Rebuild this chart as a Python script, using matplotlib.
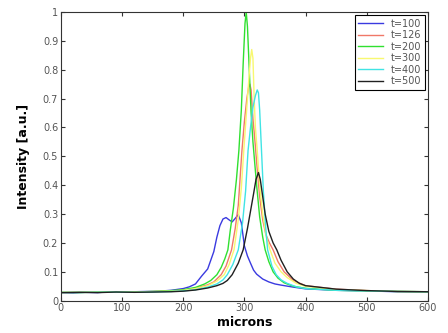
import numpy as np
import matplotlib
matplotlib.use("Agg")
import matplotlib.pyplot as plt
from matplotlib.ticker import FormatStrFormatter

# ---- data ----
labels = ['t=100', 't=126', 't=200', 't=300', 't=400', 't=500']
colors = ['#3a3ae0', '#f07868', '#30e030', '#f8f870', '#40e4e4', '#202020']

x_100 = [0, 20, 40, 60, 80, 100, 120, 140, 160, 180, 200, 210, 220, 230, 240, 250, 255, 260,
         265, 270, 275, 280, 285, 290, 295, 300, 305, 310, 315, 320, 330, 340, 350, 360, 380,
         400, 450, 500, 550, 600]
y_100 = [0.028, 0.027, 0.029, 0.028, 0.031, 0.030, 0.031, 0.032, 0.033, 0.036, 0.042, 0.048,
         0.058, 0.085, 0.11, 0.17, 0.22, 0.26, 0.283, 0.288, 0.280, 0.273, 0.285, 0.298, 0.27,
         0.19, 0.155, 0.13, 0.106, 0.092, 0.075, 0.065, 0.058, 0.054, 0.047, 0.041, 0.036,
         0.034, 0.031, 0.030]

x_126 = [0, 30, 60, 90, 120, 150, 180, 200, 220, 240, 250, 262, 270, 279, 285, 290, 296, 300,
         304, 307, 309, 311, 314, 317, 320, 325, 330, 335, 341, 347, 355, 365, 380, 400, 450,
         500, 550, 600]
y_126 = [0.028, 0.029, 0.030, 0.029, 0.031, 0.031, 0.034, 0.037, 0.043, 0.055, 0.065, 0.09,
         0.12, 0.176, 0.25, 0.33, 0.52, 0.62, 0.70, 0.74, 0.75, 0.73, 0.63, 0.56, 0.48, 0.36,
         0.28, 0.23, 0.20, 0.176, 0.135, 0.10, 0.07, 0.052, 0.040, 0.035, 0.032, 0.031]

x_200 = [0, 30, 60, 90, 120, 150, 180, 200, 220, 235, 245, 255, 262, 268, 273, 277, 282, 287,
         291, 295, 298, 301, 303, 305, 308, 311, 314, 316, 320, 325, 330, 334, 340, 347, 355,
         365, 380, 400, 450, 500, 550, 600]
y_200 = [0.029, 0.028, 0.030, 0.031, 0.030, 0.032, 0.035, 0.038, 0.046, 0.058, 0.07, 0.09,
         0.115, 0.145, 0.176, 0.245, 0.32, 0.42, 0.52, 0.66, 0.82, 0.96, 1.0, 0.95, 0.80, 0.65,
         0.55, 0.50, 0.40, 0.29, 0.22, 0.176, 0.135, 0.10, 0.078, 0.062, 0.050, 0.043, 0.036,
         0.034, 0.032, 0.031]

x_300 = [0, 30, 60, 90, 120, 150, 180, 200, 220, 240, 255, 267, 275, 283, 290, 295, 299, 303,
         307, 310, 312, 314, 316, 318, 321, 325, 330, 336, 342, 350, 360, 370, 385, 400, 450,
         500, 550, 600]
y_300 = [0.028, 0.030, 0.029, 0.031, 0.030, 0.032, 0.033, 0.036, 0.042, 0.052, 0.068, 0.09,
         0.125, 0.176, 0.28, 0.39, 0.52, 0.64, 0.76, 0.84, 0.87, 0.84, 0.70, 0.60, 0.52, 0.40,
         0.30, 0.22, 0.176, 0.13, 0.10, 0.08, 0.06, 0.05, 0.038, 0.035, 0.032, 0.031]

x_400 = [0, 30, 60, 90, 120, 150, 180, 200, 220, 240, 255, 265, 272, 281, 290, 297, 302, 306,
         310, 314, 318, 321, 323, 325, 328, 331, 335, 338, 345, 352, 360, 370, 385, 400, 450,
         500, 550, 600]
y_400 = [0.028, 0.029, 0.029, 0.030, 0.029, 0.030, 0.032, 0.034, 0.038, 0.047, 0.058, 0.072,
         0.09, 0.125, 0.176, 0.27, 0.38, 0.52, 0.60, 0.67, 0.71, 0.73, 0.72, 0.66, 0.52, 0.38,
         0.25, 0.176, 0.12, 0.09, 0.072, 0.06, 0.048, 0.042, 0.036, 0.034, 0.032, 0.031]

x_500 = [0, 30, 60, 90, 120, 150, 180, 200, 220, 240, 255, 265, 272, 280, 290, 298, 305, 310,
         315, 319, 323, 326, 330, 334, 340, 347, 353, 360, 370, 380, 390, 400, 450, 500, 550,
         600]
y_500 = [0.028, 0.029, 0.028, 0.030, 0.029, 0.030, 0.031, 0.033, 0.037, 0.044, 0.052, 0.06,
         0.07, 0.09, 0.13, 0.176, 0.25, 0.31, 0.37, 0.42, 0.444, 0.42, 0.36, 0.30, 0.24, 0.20,
         0.176, 0.14, 0.10, 0.075, 0.06, 0.052, 0.040, 0.035, 0.032, 0.031]

xs = [x_100, x_126, x_200, x_300, x_400, x_500]
ys = [y_100, y_126, y_200, y_300, y_400, y_500]

# ---- plot ----
fig = plt.figure(figsize=(4.48, 3.33), dpi=100)
ax = fig.add_axes([0.136, 0.097, 0.819, 0.867])

for x, y, c, lab in zip(xs, ys, colors, labels):
    ax.plot(x, y, color=c, lw=1.0, label=lab)

ax.set_xlim(0, 600)
ax.set_ylim(0, 1)
ax.set_xticks(np.arange(0, 601, 100))
ax.set_yticks(np.arange(0, 1.01, 0.1))
ax.yaxis.set_major_formatter(FormatStrFormatter('%g'))
ax.tick_params(direction='in', top=True, right=True, length=3, labelsize=7,
               labelcolor='#555555', color='#333333', pad=2)
for s in ax.spines.values():
    s.set_color('#333333')

ax.set_xlabel('microns', fontsize=9, fontweight='bold', labelpad=2)
ax.set_ylabel('Intensity [a.u.]', fontsize=9, fontweight='bold', labelpad=9)

leg = ax.legend(loc='upper right', fontsize=7, fancybox=False, framealpha=1,
                edgecolor='black', borderaxespad=0.3, handlelength=2.5,
                labelspacing=0.15, borderpad=0.4)
leg.get_frame().set_linewidth(0.8)
for t in leg.get_texts():
    t.set_color('#555555')

fig.savefig('out.png', dpi=100)
